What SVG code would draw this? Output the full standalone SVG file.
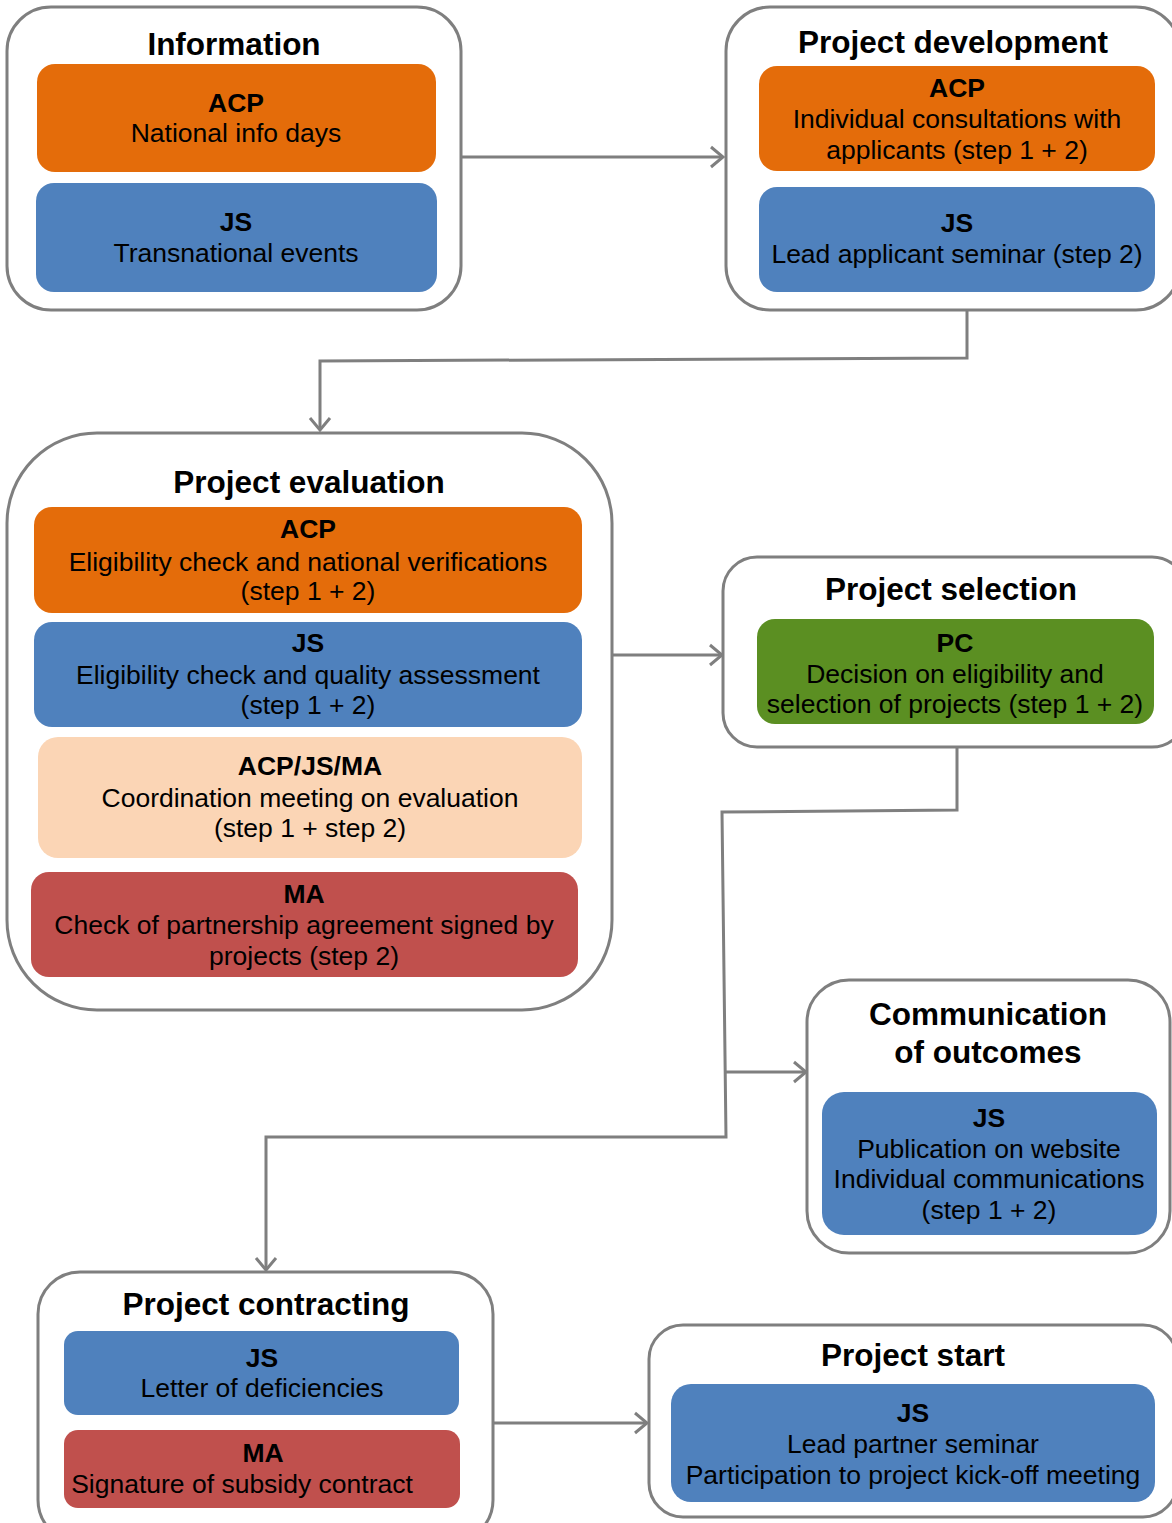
<svg xmlns="http://www.w3.org/2000/svg" width="1172" height="1523" viewBox="0 0 1172 1523">
<defs>
<marker id="arr" viewBox="-14 -12 16 24" markerWidth="16" markerHeight="24" refX="0" refY="0" orient="auto" markerUnits="userSpaceOnUse">
<polyline points="-12,-10 0,0 -12,10" fill="none" stroke="#7f7f7f" stroke-width="3"/>
</marker>
<style>
.outer{fill:#fff;stroke:#7f7f7f;stroke-width:3}
.acp{fill:#e46c0a}
.js{fill:#4f81bd}
.co{fill:#fbd5b5}
.ma{fill:#c0504d}
.pc{fill:#5b8f22}
text{font-family:"Liberation Sans",Arial,sans-serif;fill:#000;text-anchor:middle}
.t{font-size:31.5px;font-weight:bold}
.b{font-size:26.5px;font-weight:bold}
.r{font-size:26.5px}
.conn{fill:none;stroke:#7f7f7f;stroke-width:3}
</style>
</defs>
<rect width="1172" height="1523" fill="#fff"/>

<g id="connectors">
<path class="conn" d="M461,157 H723" marker-end="url(#arr)"/>
<path class="conn" d="M967,310 V358 L320,361 V430" marker-end="url(#arr)"/>
<path class="conn" d="M612,655 H722" marker-end="url(#arr)"/>
<path class="conn" d="M957,747 V810 L722,812 L726,1137 L266,1137 V1270" marker-end="url(#arr)"/>
<path class="conn" d="M725,1072 H806" marker-end="url(#arr)"/>
<path class="conn" d="M493,1423 H647" marker-end="url(#arr)"/>
</g>

<g id="information">
<rect class="outer" x="7" y="7" width="454" height="303" rx="44"/>
<text class="t" x="234" y="55">Information</text>
<rect class="acp" x="37" y="64" width="399" height="108" rx="18"/>
<text class="b" x="236" y="112">ACP</text>
<text class="r" x="236" y="142">National info days</text>
<rect class="js" x="36" y="183" width="401" height="109" rx="18"/>
<text class="b" x="236" y="231">JS</text>
<text class="r" x="236" y="262">Transnational events</text>
</g>

<g id="project-development">
<rect class="outer" x="726" y="7" width="454" height="303" rx="44"/>
<text class="t" x="953" y="53">Project development</text>
<rect class="acp" x="759" y="66" width="396" height="105" rx="18"/>
<text class="b" x="957" y="97">ACP</text>
<text class="r" x="957" y="128">Individual consultations with</text>
<text class="r" x="957" y="159">applicants (step 1 + 2)</text>
<rect class="js" x="759" y="187" width="396" height="105" rx="18"/>
<text class="b" x="957" y="232">JS</text>
<text class="r" x="957" y="263">Lead applicant seminar (step 2)</text>
</g>

<g id="project-evaluation">
<rect class="outer" x="7" y="433" width="605" height="577" rx="90"/>
<text class="t" x="309" y="493">Project evaluation</text>
<rect class="acp" x="34" y="507" width="548" height="106" rx="18"/>
<text class="b" x="308" y="538">ACP</text>
<text class="r" x="308" y="571">Eligibility check and national verifications</text>
<text class="r" x="308" y="600">(step 1 + 2)</text>
<rect class="js" x="34" y="622" width="548" height="105" rx="18"/>
<text class="b" x="308" y="652">JS</text>
<text class="r" x="308" y="684">Eligibility check and quality assessment</text>
<text class="r" x="308" y="714">(step 1 + 2)</text>
<rect class="co" x="38" y="737" width="544" height="121" rx="20"/>
<text class="b" x="310" y="775">ACP/JS/MA</text>
<text class="r" x="310" y="807">Coordination meeting on evaluation</text>
<text class="r" x="310" y="837">(step 1 + step 2)</text>
<rect class="ma" x="31" y="872" width="547" height="105" rx="18"/>
<text class="b" x="304" y="903">MA</text>
<text class="r" x="304" y="934">Check of partnership agreement signed by</text>
<text class="r" x="304" y="965">projects (step 2)</text>
</g>

<g id="project-selection">
<rect class="outer" x="723" y="557" width="463" height="190" rx="34"/>
<text class="t" x="951" y="600">Project selection</text>
<rect class="pc" x="757" y="619" width="397" height="105" rx="18"/>
<text class="b" x="955" y="652">PC</text>
<text class="r" x="955" y="683">Decision on eligibility and</text>
<text class="r" x="955" y="713">selection of projects (step 1 + 2)</text>
</g>

<g id="communication-of-outcomes">
<rect class="outer" x="807" y="980" width="363" height="273" rx="42"/>
<text class="t" x="988" y="1025">Communication</text>
<text class="t" x="988" y="1063">of outcomes</text>
<rect class="js" x="822" y="1092" width="335" height="143" rx="22"/>
<text class="b" x="989" y="1127">JS</text>
<text class="r" x="989" y="1158">Publication on website</text>
<text class="r" x="989" y="1188">Individual communications</text>
<text class="r" x="989" y="1219">(step 1 + 2)</text>
</g>

<g id="project-contracting">
<rect class="outer" x="38" y="1272" width="455" height="270" rx="42"/>
<text class="t" x="266" y="1315">Project contracting</text>
<rect class="js" x="64" y="1331" width="395" height="84" rx="14"/>
<text class="b" x="262" y="1367">JS</text>
<text class="r" x="262" y="1397">Letter of deficiencies</text>
<rect class="ma" x="64" y="1430" width="396" height="78" rx="14"/>
<text class="b" x="263" y="1462">MA</text>
<text class="r" x="242" y="1493">Signature of subsidy contract</text>
</g>

<g id="project-start">
<rect class="outer" x="649" y="1325" width="528" height="192" rx="34"/>
<text class="t" x="913" y="1366">Project start</text>
<rect class="js" x="671" y="1384" width="484" height="118" rx="20"/>
<text class="b" x="913" y="1422">JS</text>
<text class="r" x="913" y="1453">Lead partner seminar</text>
<text class="r" x="913" y="1484">Participation to project kick-off meeting</text>
</g>
</svg>
